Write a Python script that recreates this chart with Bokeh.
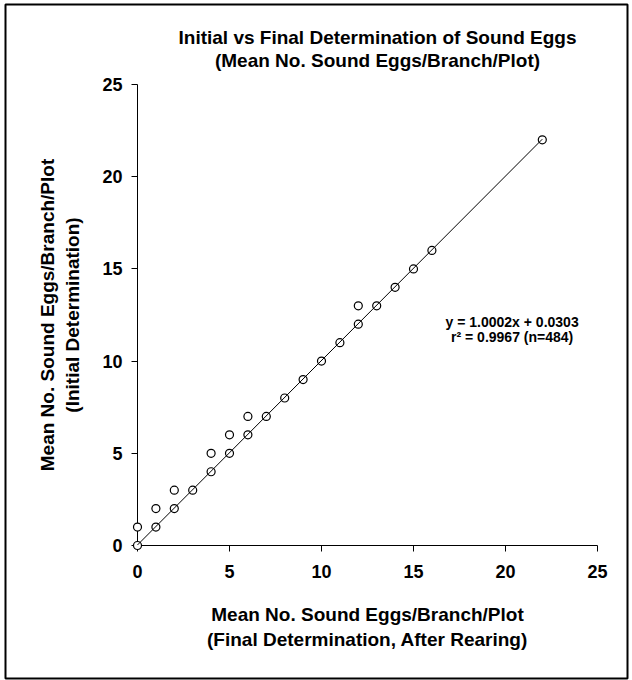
from bokeh.plotting import figure
from bokeh.models import Range1d, FixedTicker, Label
from bokeh.core.properties import value
from bokeh.embed import file_html
from bokeh.resources import INLINE

# Mean sound eggs per branch per plot: final (after rearing) vs initial count
final_counts = [0, 1, 2, 3, 4, 5, 6, 7, 8, 9, 10, 11, 12, 13, 14, 15, 16, 22,
                0, 1, 2, 4, 5, 6, 12]
initial_counts = [0, 1, 2, 3, 4, 5, 6, 7, 8, 9, 10, 11, 12, 13, 14, 15, 16, 22,
                  1, 2, 3, 5, 6, 7, 13]
tick_values = [0, 5, 10, 15, 20, 25]

# Linear fit reported for the 484 observations
fit_slope = 1.0002
fit_intercept = 0.0303
fit_r2 = 0.9967
n_obs = 484
fit_x = [0, 22]
fit_y = [fit_slope * v + fit_intercept for v in fit_x]

title_lines = ["Initial vs Final Determination of Sound Eggs",
               "(Mean No. Sound Eggs/Branch/Plot)"]

FONT = "Liberation Sans"
W, H = 632, 680
LEFT, RIGHT, TOP, BOTTOM = 137, 35, 84, 135
X_MAX = Y_MAX = 25


def px_x(px):
    """canvas pixel column -> data x"""
    return (px - LEFT) / (W - LEFT - RIGHT) * X_MAX


def px_y(py):
    """canvas pixel row -> data y"""
    return (H - BOTTOM - py) / (H - TOP - BOTTOM) * Y_MAX


p = figure(width=W, height=H, output_backend="svg", toolbar_location=None,
           x_range=Range1d(0, X_MAX), y_range=Range1d(0, Y_MAX),
           min_border_left=LEFT, min_border_right=RIGHT,
           min_border_top=TOP, min_border_bottom=BOTTOM)

p.title = None
p.outline_line_color = None
p.xgrid.grid_line_color = None
p.ygrid.grid_line_color = None
p.background_fill_color = "white"
p.border_fill_color = "white"

for ax in (p.xaxis[0], p.yaxis[0]):
    ax.ticker = FixedTicker(ticks=tick_values)
    ax.minor_tick_line_color = None
    ax.major_tick_in = 0
    ax.major_tick_out = 6
    ax.axis_line_color = "black"
    ax.major_tick_line_color = "black"
    ax.major_label_text_font = FONT
    ax.major_label_text_font_size = "18px"
    ax.major_label_text_font_style = "bold"
    ax.major_label_text_color = "black"
    ax.axis_label_text_font = FONT
    ax.axis_label_text_font_size = "19px"
    ax.axis_label_text_font_style = "bold"
    ax.axis_label_text_color = "black"

p.xaxis[0].axis_label = "Mean No. Sound Eggs/Branch/Plot\n(Final Determination, After Rearing)"
p.yaxis[0].axis_label = "Mean No. Sound Eggs/Branch/Plot\n(Initial Determination)"
p.xaxis[0].major_label_standoff = 13
p.xaxis[0].axis_label_standoff = 23
p.yaxis[0].major_label_standoff = 9
p.yaxis[0].axis_label_standoff = 16

# observations as open circles, fit line drawn across them
p.scatter(final_counts, initial_counts, size=8, marker="circle",
          fill_color="white", line_color="black", line_width=1.2, level="overlay")
p.line(fit_x, fit_y, line_color="black", line_width=1, level="overlay")

# two-line chart heading, each line centred
p.text(x=[px_x(377)] * 2, y=[px_y(37), px_y(60)], text=title_lines,
       text_align="center", text_baseline="alphabetic",
       text_font=value(FONT), text_font_size="19px", text_font_style="bold",
       text_color="black", level="overlay")

p.add_layout(Label(x=20.36, y=12.1, text=f"y = {fit_slope:.4f}x + {fit_intercept:.4f}",
                   text_align="center", text_baseline="alphabetic", text_font=FONT,
                   text_font_size="14px", text_font_style="bold", text_color="black"))
p.add_layout(Label(x=20.36, y=11.28, text=f"r\u00b2 = {fit_r2:.4f} (n={n_obs})",
                   text_align="center", text_baseline="alphabetic", text_font=FONT,
                   text_font_size="14px", text_font_style="bold", text_color="black"))

# thin frame around the whole chart area
p.quad(left=[px_x(5)], right=[px_x(627)], top=[px_y(4)], bottom=[px_y(678)],
       fill_color=None, line_color="black", line_width=2, level="overlay")

open("out.html", "w").write(file_html(p, INLINE))
